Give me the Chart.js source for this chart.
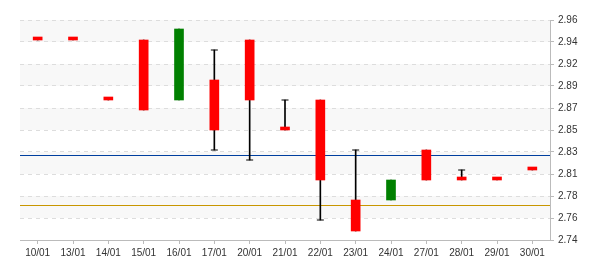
<!DOCTYPE html>
<html>
<head>
<meta charset="utf-8">
<script src="https://cdn.jsdelivr.net/npm/chart.js@4"></script>
<style>
  body { margin: 0; background: #fff; }
  #wrap { width: 600px; height: 270px; }
</style>
</head>
<body>
<div id="wrap"><canvas id="candles" width="600" height="270"></canvas></div>
<script>
// daily quotes
const days  = ["10/01","13/01","14/01","15/01","16/01","17/01","20/01","21/01","22/01","23/01","24/01","27/01","28/01","29/01","30/01"];
const open  = [2.94, 2.94, 2.88, 2.94, 2.88, 2.90, 2.94, 2.85, 2.88, 2.78, 2.78, 2.83, 2.80, 2.80, 2.81];
const high  = [2.94, 2.94, 2.88, 2.94, 2.951, 2.93, 2.94, 2.88, 2.88, 2.83, 2.80, 2.83, 2.81, 2.80, 2.81];
const low   = [2.94, 2.94, 2.88, 2.87, 2.88, 2.83, 2.82, 2.85, 2.76, 2.749, 2.78, 2.80, 2.80, 2.80, 2.81];
const close = [2.94, 2.94, 2.88, 2.87, 2.951, 2.85, 2.88, 2.85, 2.80, 2.749, 2.80, 2.80, 2.80, 2.80, 2.81];

// reference levels
const levels      = [2.825, 2.7747];
const levelColors = ["#003f9f", "#c89600"];

// axis range
const yMin = 2.74, yMax = 2.96, yStep = 0.022;

const bodies = days.map((d, i) => [open[i], close[i]]);
const bodyColors = days.map((d, i) => close[i] > open[i] ? "#008000" : "#ff0000");
const wicks = days.map((d, i) => [low[i], high[i]]);
const highCaps = days.map((d, i) => high[i] > Math.max(open[i], close[i]) ? high[i] : null);
const lowCaps = days.map((d, i) => low[i] < Math.min(open[i], close[i]) ? low[i] : null);

// alternating bands + horizontal levels
const decor = {
  id: "decor",
  beforeDraw(chart) {
    const { ctx, chartArea: a, scales: { y } } = chart;
    const ticks = y.ticks;
    ctx.save();
    ctx.fillStyle = "#f8f8f8";
    for (let i = 0; i < ticks.length - 1; i++) {
      if (i % 2 === 1) {
        const t = y.getPixelForValue(ticks[i + 1].value);
        const b = y.getPixelForValue(ticks[i].value);
        ctx.fillRect(a.left, t, a.right - a.left, b - t);
      }
    }
    ctx.restore();
  },
  beforeDatasetsDraw(chart) {
    const { ctx, chartArea: a, scales: { y } } = chart;
    ctx.save();
    ctx.lineWidth = 1;
    levels.forEach((v, i) => {
      const py = Math.round(y.getPixelForValue(v)) + 0.5;
      ctx.strokeStyle = levelColors[i];
      ctx.beginPath();
      ctx.moveTo(a.left, py);
      ctx.lineTo(a.right, py);
      ctx.stroke();
    });
    ctx.restore();
  }
};

const tickFont = { family: "'Liberation Sans', Arial, sans-serif", size: 10 };

new Chart(document.getElementById("candles"), {
  type: "bar",
  data: {
    labels: days,
    datasets: [
      {
        data: bodies,
        backgroundColor: bodyColors,
        barThickness: 9,
        minBarLength: 3,
        grouped: false,
        order: 0
      },
      {
        data: wicks,
        backgroundColor: "#000",
        barThickness: 1,
        grouped: false,
        order: 1
      },
      {
        type: "line",
        data: highCaps,
        showLine: false,
        pointStyle: "line",
        pointRadius: 3.5,
        pointBorderColor: "#000",
        pointBorderWidth: 1,
        order: 2
      },
      {
        type: "line",
        data: lowCaps,
        showLine: false,
        pointStyle: "line",
        pointRadius: 3.5,
        pointBorderColor: "#000",
        pointBorderWidth: 1,
        order: 2
      }
    ]
  },
  options: {
    responsive: false,
    animation: false,
    events: [],
    layout: { padding: { top: 20, left: 20, right: 0, bottom: 0 } },
    plugins: { legend: { display: false }, tooltip: { enabled: false } },
    scales: {
      x: {
        offset: true,
        grid: { offset: false, drawOnChartArea: false, drawTicks: true, tickLength: 4, tickColor: "#bbb" },
        border: { color: "#bbb" },
        ticks: { font: tickFont, color: "#333", padding: 3, maxRotation: 0, autoSkip: false },
        afterFit(s) { s.height = 30; }
      },
      y: {
        position: "right",
        min: yMin,
        max: yMax,
        grid: { color: "#ddd", tickColor: "#bbb", tickLength: 4 },
        border: { color: "#bbb", dash: [4, 4] },
        ticks: {
          stepSize: yStep,
          font: tickFont,
          color: "#333",
          padding: 4,
          callback: v => v.toFixed(2)
        },
        afterFit(s) { s.width = 50; }
      }
    }
  },
  plugins: [decor]
});
</script>
</body>
</html>
